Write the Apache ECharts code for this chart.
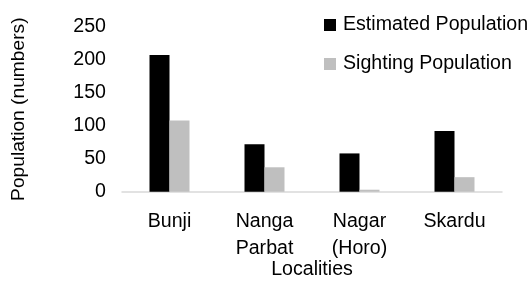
<!DOCTYPE html>
<html><head><meta charset="utf-8">
<script src="https://cdn.jsdelivr.net/npm/echarts@6/dist/echarts.min.js"></script>
<style>html,body{margin:0;padding:0;background:#fff}#c{width:531px;height:290px}</style>
</head><body><div id="c"></div>
<script>
const categories = ['Bunji', 'Nanga\nParbat', 'Nagar\n(Horo)', 'Skardu'];
const estimated = [207, 72, 58, 92];
const sighting = [108, 37, 3, 22];
const yTicks = [0, 50, 100, 150, 200, 250];

const font = 'Liberation Sans, Arial, sans-serif';
const fs = 19.6;
const chart = echarts.init(document.getElementById('c'), null, {renderer: 'canvas'});
chart.setOption({
  animation: false,
  backgroundColor: '#fff',
  textStyle: {fontFamily: font},
  grid: {left: 122, right: 29, top: 26.7, bottom: 98.3, containLabel: false},
  legend: {
    orient: 'vertical', left: 319, top: 10,
    itemWidth: 12, itemHeight: 12, itemGap: 19,
    icon: 'rect',
    textStyle: {fontSize: fs, color: '#000', fontFamily: font, padding: [0,0,0,2]},
    data: ['Estimated Population', 'Sighting Population']
  },
  xAxis: {
    type: 'category', data: categories,
    name: 'Localities', nameLocation: 'middle', nameGap: 68, nameMoveOverlap: false,
    nameTextStyle: {fontSize: fs, color: '#000', fontFamily: font},
    axisLine: {lineStyle: {color: '#d9d9d9', width: 1.5}},
    axisTick: {show: false},
    axisLabel: {fontSize: fs, color: '#000', margin: 16, lineHeight: 27, fontFamily: font, interval: 0}
  },
  yAxis: {
    type: 'value', min: yTicks[0], max: yTicks[yTicks.length-1], interval: 50,
    name: 'Population (numbers)', nameLocation: 'middle', nameGap: 94, nameMoveOverlap: false,
    nameTextStyle: {fontSize: 19.2, color: '#000', fontFamily: font},
    axisLine: {show: false}, axisTick: {show: false}, splitLine: {show: false},
    axisLabel: {fontSize: fs, color: '#000', margin: 16, fontFamily: font}
  },
  series: [
    {name: 'Estimated Population', type: 'bar', data: estimated, barWidth: 20, barGap: '0%', itemStyle: {color: '#000000'}},
    {name: 'Sighting Population', type: 'bar', data: sighting, barWidth: 20, barGap: '0%', itemStyle: {color: '#bfbfbf'}}
  ]
});
</script></body></html>
